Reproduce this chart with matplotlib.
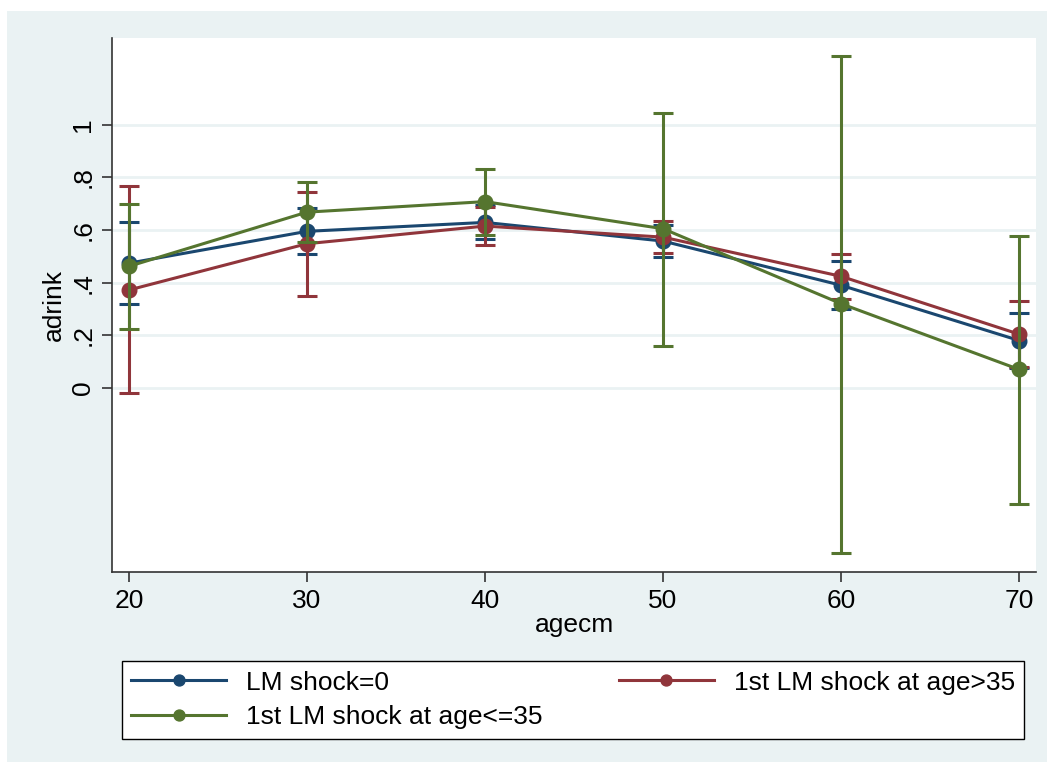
import matplotlib.pyplot as plt
from matplotlib.patches import Rectangle

plt.rcParams["font.family"] = ["Liberation Sans", "DejaVu Sans"]

# margins: predicted adrink by age group, with 95% CI
edades = [20, 30, 40, 50, 60, 70]

nombres = ["LM shock=0", "1st LM shock at age>35", "1st LM shock at age<=35"]
colores = ["#1a476f", "#90353b", "#55752f"]

prom_0 = [0.474, 0.595, 0.629, 0.558, 0.390, 0.180]
inf_0 = [0.319, 0.507, 0.564, 0.497, 0.299, 0.075]
sup_0 = [0.629, 0.683, 0.694, 0.619, 0.481, 0.286]

prom_mayor = [0.372, 0.548, 0.615, 0.573, 0.424, 0.204]
inf_mayor = [-0.020, 0.351, 0.543, 0.512, 0.338, 0.078]
sup_mayor = [0.768, 0.746, 0.687, 0.634, 0.510, 0.329]

prom_menor = [0.462, 0.668, 0.708, 0.605, 0.320, 0.070]
inf_menor = [0.222, 0.554, 0.583, 0.158, -0.627, -0.443]
sup_menor = [0.698, 0.782, 0.833, 1.043, 1.260, 0.577]

series = [
    (prom_0, inf_0, sup_0),
    (prom_mayor, inf_mayor, sup_mayor),
    (prom_menor, inf_menor, sup_menor),
]

y_ticks = [0, 0.2, 0.4, 0.6, 0.8, 1.0]
y_labels = ["0", ".2", ".4", ".6", ".8", "1"]

fondo = "#eaf2f3"

fig = plt.figure(figsize=(10.52, 7.69), dpi=100)
fig.patches.append(Rectangle((7 / 1052, 7 / 769), 1040 / 1052, 751 / 769,
                             transform=fig.transFigure, facecolor=fondo,
                             edgecolor="none", zorder=-10))

ax = fig.add_axes([112 / 1052, 1 - 572 / 769, 924 / 1052, 534 / 769])
ax.set_facecolor("white")

manejadores = []
for (prom, inf, sup), nombre, color in zip(series, nombres, colores):
    err = [[p - i for p, i in zip(prom, inf)], [s - p for p, s in zip(prom, sup)]]
    ax.errorbar(edades, prom, yerr=err, fmt="none", ecolor=color,
                elinewidth=2.2, capsize=7, capthick=2.2, zorder=3)
    linea, = ax.plot(edades, prom, "-o", color=color, lw=2.2, ms=10.5, zorder=3,
                     label=nombre)
    manejadores.append(linea)

ax.set_xlim(19.05, 70.95)
ax.set_ylim(-0.70, 1.33)
ax.set_xticks(edades)
ax.set_yticks(y_ticks)
ax.set_yticklabels(y_labels, rotation=90, va="center")
ax.grid(axis="y", color=fondo, lw=2)
ax.set_axisbelow(True)

for lado in ["top", "right"]:
    ax.spines[lado].set_visible(False)
for lado in ["left", "bottom"]:
    ax.spines[lado].set_color("#333333")
    ax.spines[lado].set_linewidth(1.2)

ax.tick_params(axis="both", labelsize=19, length=7, width=1.2, color="#333333",
               pad=5)
ax.set_xlabel("agecm", fontsize=19, labelpad=0)
ax.set_ylabel("adrink", fontsize=19, labelpad=4)

# leyenda en dos columnas, llenada por filas
orden = [manejadores[0], manejadores[2], manejadores[1]]
leg = fig.legend(orden, [h.get_label() for h in orden],
                 loc="center", ncol=2, mode="expand",
                 bbox_to_anchor=(122 / 1052, 1 - 744 / 769, 902 / 1052, 88 / 769),
                 fontsize=19, frameon=True, fancybox=False, edgecolor="black",
                 facecolor="white", framealpha=1,
                 handlelength=3.6, markerscale=0.75, borderpad=0.35,
                 labelspacing=0.4, handletextpad=0.75, borderaxespad=0)
leg.get_frame().set_linewidth(1.0)

fig.savefig("out.png", dpi=100)
